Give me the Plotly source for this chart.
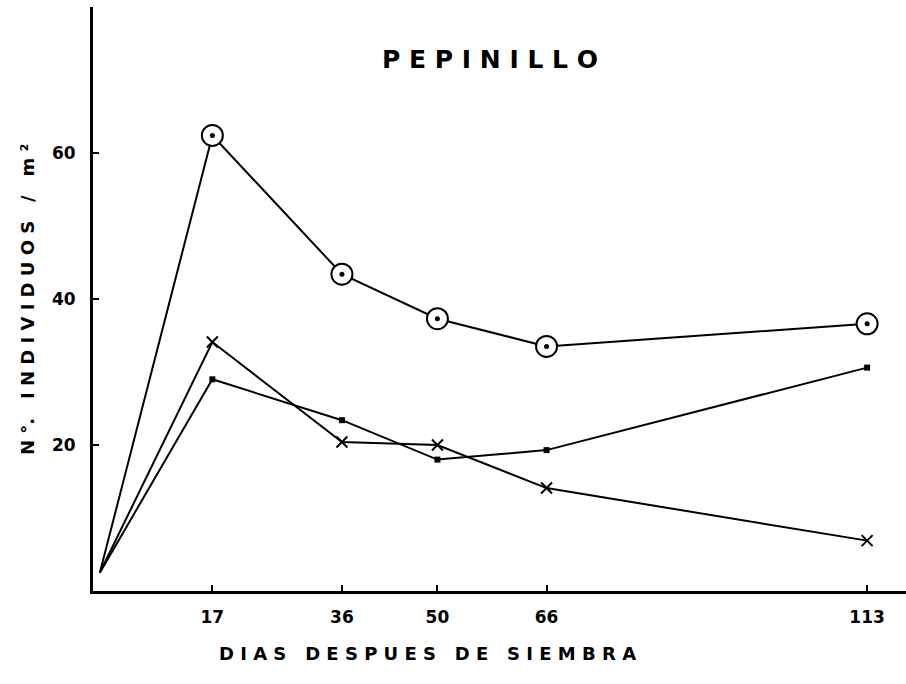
import plotly.graph_objects as go

days = [0.5, 17, 36, 50, 66, 113]
serie_circulo = [2.5, 62.4, 43.4, 37.3, 33.5, 36.6]
serie_cruz = [2.5, 34.1, 20.4, 20.0, 14.1, 6.9]
serie_punto = [2.5, 29.0, 23.4, 18.0, 19.3, 30.6]
x_ticks = [17, 36, 50, 66, 113]
x_tick_labels = ["17", "36", "50", "66", "113"]
y_ticks = [20, 40, 60]
y_tick_labels = ["20", "40", "60"]

W, H = 906, 684
L, R, T, B = 93, 0, 7, 93
PW, PH = W - L - R, H - T - B


def px_x(p):
    return (p - L) / PW


def px_y(p):
    return 1 - (p - T) / PH


line = dict(color="black", width=2)
fig = go.Figure()
fig.add_trace(go.Scatter(x=days, y=serie_circulo, mode="lines", line=line, showlegend=False))
fig.add_trace(go.Scatter(x=days[1:], y=serie_circulo[1:], mode="markers",
                         marker=dict(symbol="circle", size=21, color="white",
                                     line=dict(color="black", width=2)), showlegend=False))
fig.add_trace(go.Scatter(x=days[1:], y=serie_circulo[1:], mode="markers",
                         marker=dict(symbol="circle", size=5, color="black"), showlegend=False))
fig.add_trace(go.Scatter(x=days, y=serie_cruz, mode="lines", line=line, showlegend=False))
fig.add_trace(go.Scatter(x=days[1:], y=serie_cruz[1:], mode="markers",
                         marker=dict(symbol="x-thin", size=11,
                                     line=dict(color="black", width=2)), showlegend=False))
fig.add_trace(go.Scatter(x=days, y=serie_punto, mode="lines", line=line, showlegend=False))
fig.add_trace(go.Scatter(x=days[1:], y=serie_punto[1:], mode="markers",
                         marker=dict(symbol="square", size=6, color="black"), showlegend=False))

font_fam = "DejaVu Sans"
fig.update_layout(
    width=W, height=H,
    margin=dict(l=L, r=R, t=T, b=B),
    paper_bgcolor="white", plot_bgcolor="white",
    font=dict(family=font_fam, color="black"),
    xaxis=dict(range=[-0.5, 118.7], showgrid=False, zeroline=False,
               showline=True, linecolor="black", linewidth=3,
               tickmode="array", tickvals=x_ticks, ticktext=x_tick_labels,
               ticks="inside", ticklen=6, tickwidth=2, tickcolor="black",
               ticklabelstandoff=9,
               tickfont=dict(size=17, weight="bold")),
    yaxis=dict(range=[0, 80], showgrid=False, zeroline=False,
               showline=True, linecolor="black", linewidth=3,
               tickmode="array", tickvals=y_ticks, ticktext=y_tick_labels,
               ticks="inside", ticklen=6, tickwidth=2, tickcolor="black",
               ticklabelstandoff=11,
               tickfont=dict(size=17, weight="bold")),
    annotations=[
        dict(text="P E P I N I L L O", x=px_x(490), y=px_y(59), xref="paper", yref="paper",
             xanchor="center", yanchor="middle", showarrow=False,
             font=dict(size=25, weight="bold", family=font_fam)),
        dict(text="D I A S   D E S P U E S   D E   S I E M B R A", x=px_x(427), y=px_y(653),
             xref="paper", yref="paper", xanchor="center", yanchor="middle", showarrow=False,
             font=dict(size=18, weight="bold", family=font_fam)),
        dict(text="N °.   I N D I V I D U O S   /   m ²", x=px_x(27), y=px_y(300),
             xref="paper", yref="paper", xanchor="center", yanchor="middle", showarrow=False,
             textangle=-90, font=dict(size=18, weight="bold", family=font_fam)),
    ],
)
fig.write_html("out.html", config={"displayModeBar": False},
               post_script="document.body.style.margin='0';document.body.style.padding='0';")
